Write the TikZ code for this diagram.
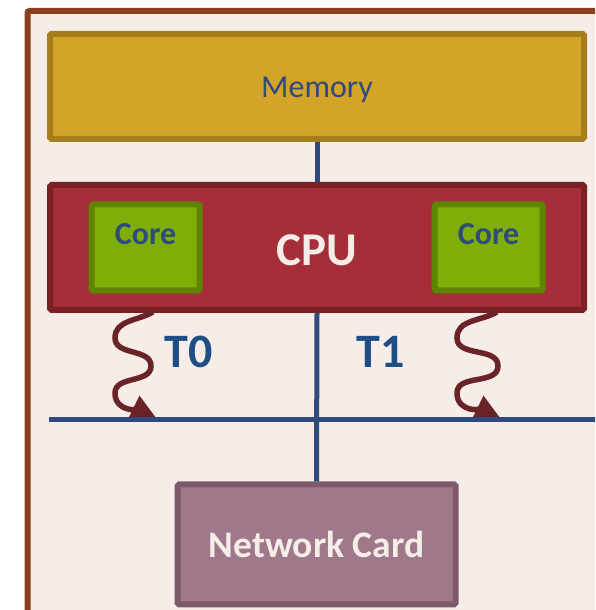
\documentclass[tikz,border=0pt]{standalone}
\usepackage{fontspec}
\setmainfont{Carlito}
\usetikzlibrary{arrows.meta}
\definecolor{bgc}{HTML}{F6EDE8}
\definecolor{outerc}{HTML}{8B3F1C}
\definecolor{memfill}{HTML}{D4A429}
\definecolor{memdraw}{HTML}{A67D1C}
\definecolor{cpufill}{HTML}{A52E38}
\definecolor{cpudraw}{HTML}{7A2126}
\definecolor{corefill}{HTML}{7FAE08}
\definecolor{coredraw}{HTML}{5F8500}
\definecolor{navy}{HTML}{2F4B7C}
\definecolor{tblue}{HTML}{1F4E85}
\definecolor{squig}{HTML}{6A2327}
\definecolor{nicfill}{HTML}{A0788C}
\definecolor{nicdraw}{HTML}{7D5A6B}
\begin{document}
\begin{tikzpicture}[x=1pt,y=1pt,
  box/.style={rectangle,line width=6pt,rounded corners=1.5pt,inner sep=0pt},
  busline/.style={draw=navy,line width=5pt},
  wave/.style={draw=squig,line width=5.5pt,-{Triangle[length=26pt,width=25pt]}},
  tlabel/.style={text=tblue,font=\bfseries\fontsize{48}{48}\selectfont}]
\useasboundingbox (0,0) rectangle (595,610);
\clip (0,0) rectangle (595,610);
\fill[white] (0,0) rectangle (595,610);
\draw[line width=6pt,draw=outerc,fill=bgc,rounded corners=2pt] (27.5,599) rectangle (640,-40);
% boxes
\node[box,draw=memdraw,fill=memfill,minimum width=534pt,minimum height=105pt] (mem) at (317,523.5) {};
\node[text=navy,font=\fontsize{32}{32}\selectfont] (memtxt) at (317,520) {Memory};
\node[box,draw=cpudraw,fill=cpufill,minimum width=534pt,minimum height=125pt] (cpu) at (317,362.5) {};
\node[text=bgc,font=\bfseries\fontsize{47}{47}\selectfont] (cputxt) at (317,360) {CPU};
\node[box,draw=coredraw,fill=corefill,minimum width=108pt,minimum height=86pt] (core1) at (145.5,362.5) {};
\node[box,draw=coredraw,fill=corefill,minimum width=108pt,minimum height=86pt] (core2) at (488.5,362.5) {};
\node[text=navy,font=\bfseries\fontsize{32}{32}\selectfont] (c1txt) at (145.5,376) {Core};
\node[text=navy,font=\bfseries\fontsize{32}{32}\selectfont] (c2txt) at (488.5,376) {Core};
\node[box,draw=nicdraw,fill=nicfill,minimum width=278pt,minimum height=120pt,
  text=bgc,font=\bfseries\fontsize{37.5}{37.5}\selectfont] (nic) at (316.5,65.5) {Network Card};
% squiggles
\coordinate (w0s) at (153,298);
\coordinate (w0a) at (115,272);
\coordinate (w0b) at (151,244);
\coordinate (w0c) at (115,217);
\coordinate (w0e) at (157,191);
\coordinate (w1s) at (497,298);
\coordinate (w1a) at (457,272);
\coordinate (w1b) at (498,244);
\coordinate (w1c) at (457,217);
\coordinate (w1e) at (501,191);
\draw[wave] (w0s) to[out=210,in=90] (w0a) to[out=-90,in=90] (w0b) to[out=-90,in=90] (w0c) to[out=-90,in=154] (w0e);
\draw[wave] (w1s) to[out=210,in=90] (w1a) to[out=-90,in=90] (w1b) to[out=-90,in=90] (w1c) to[out=-90,in=154] (w1e);
% bus and links
\coordinate (busL) at (49,190.5);
\coordinate (busR) at (600,190.5);
\draw[busline] (busL) -- (busR);
\draw[busline] (mem.south) -- (cpu.north);
\draw[busline] (cpu.south) -- (nic.north);
\node[tlabel] (t0) at (189,258) {T0};
\node[tlabel] (t1) at (381,258) {T1};
\end{tikzpicture}
\end{document}
